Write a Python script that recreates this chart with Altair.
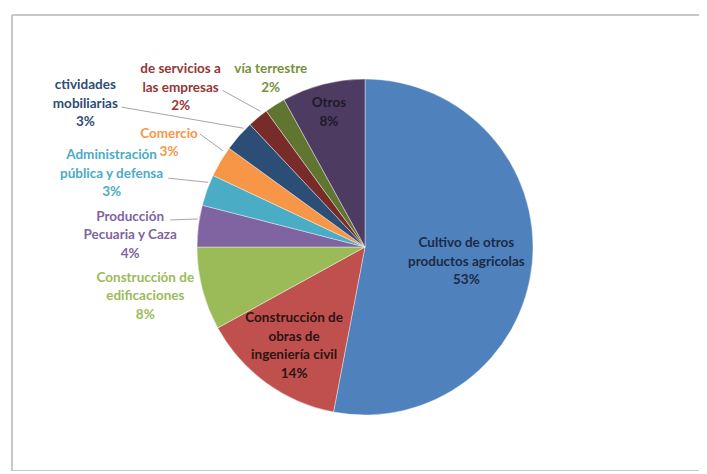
import math
import altair as alt
import pandas as pd

# ---- data ----
categories = [
    "Cultivo de otros productos agricolas",
    "Construcción de obras de ingeniería civil",
    "Construcción de edificaciones",
    "Producción Pecuaria y Caza",
    "Administración pública y defensa",
    "Comercio",
    "Actividades inmobiliarias",
    "Actividades de servicios a las empresas",
    "Transporte por vía terrestre",
    "Otros",
]
shares = [53, 14, 8, 4, 3, 3, 3, 2, 2, 8]
label_texts = [
    "Cultivo de otros\nproductos agricolas",
    "Construcción de\nobras de\ningeniería civil",
    "Construcción de\nedificaciones",
    "Producción\nPecuaria y Caza",
    "Administración\npública y defensa",
    "Comercio",
    "ctividades\nmobiliarias",
    "de servicios a\nlas empresas",
    "vía terrestre",
    "Otros",
]

# ---- styles ----
slice_colors = ["#4F81BD", "#C0504D", "#9BBB59", "#8064A2", "#4BACC6",
                "#F79646", "#2C4D75", "#772C2A", "#5F7530", "#4D3B62"]
text_colors = ["#1c2b45", "#2b1414", "#9BBB59", "#8064A2", "#4BACC6",
               "#F79646", "#2C4D75", "#953735", "#76923C", "#1e1a2a"]
FONT_SIZE = 13.5
LINE_H = 18.5
FRAME = "#c8c8c8"

# ---- layout (label placement relative to slice mid-angle) ----
# (angle offset in degrees, radius as a multiple of the pie radius)
label_layout = [(3.0, 0.61), (-0.4, 0.725), (1.8, 1.34), (-4.3, 1.40), (-3.7, 1.57),
                (-2.7, 1.32), (-14.3, 1.87), (-9.6, 1.45), (3.2, 1.15), (-0.6, 0.83)]
# leader: (start angle offset, start radius, end angle offset, end radius)
leader_layout = {3: (0.7, 1.17, 2.3, 1.01), 4: (-0.5, 1.24, 2.6, 1.01), 5: (3.8, 1.19, 3.5, 1.02),
                 6: (-11.5, 1.67, 3.0, 1.01), 7: (-2.7, 1.26, 2.0, 1.02)}

W, H = 687, 456
CX, CY, R = 353, 232, 168

total = sum(shares)
mids = []
cum = 0
for v in shares:
    mids.append((cum + v / 2) / total * 360.0)
    cum += v


def polar(angle_deg, r):
    a = math.radians(angle_deg)
    return math.sin(a) * r, math.cos(a) * r


pie_df = pd.DataFrame({"category": categories, "share": shares, "idx": list(range(len(categories)))})

rows = []
for i, (cat, v, t) in enumerate(zip(categories, shares, label_texts)):
    da, rr = label_layout[i]
    x, y = polar(mids[i] + da, rr)
    full = f"{t}\n{v}%"
    n = full.count("\n") + 1
    # centre the whole text block on the anchor (Vega anchors the first line)
    y += (n - 1) * LINE_H / 2 / R
    rows.append({"x": x, "y": y, "text": full, "tcolor": text_colors[i]})
text_df = pd.DataFrame(rows)

lrows = []
for i, (da, rr, de, re) in leader_layout.items():
    x1, y1 = polar(mids[i] + da, rr)
    x2, y2 = polar(mids[i] + de, re)
    lrows.append({"x": x1, "y": y1, "x2": x2, "y2": y2})
lead_df = pd.DataFrame(lrows)

xs = alt.Scale(domain=[-CX / R, (W - CX) / R], range=[0, W], nice=False, zero=False)
ys = alt.Scale(domain=[-(H - CY) / R, CY / R], range=[H, 0], nice=False, zero=False)

arc = alt.Chart(pie_df).mark_arc(radius=R, stroke="white", strokeWidth=0.4).encode(
    theta=alt.Theta("share:Q", stack=True),
    order=alt.Order("idx:Q"),
    color=alt.Color("category:N", scale=alt.Scale(domain=categories, range=slice_colors), legend=None),
    x=alt.X(datum=0, type="quantitative", scale=xs, axis=None),
    y=alt.Y(datum=0, type="quantitative", scale=ys, axis=None),
)

leaders = alt.Chart(lead_df).mark_rule(color="#a6a6a6", strokeWidth=1).encode(
    x=alt.X("x:Q", scale=xs, axis=None),
    y=alt.Y("y:Q", scale=ys, axis=None),
    x2="x2:Q",
    y2="y2:Q",
)

labels = alt.Chart(text_df).mark_text(
    font="Lato", fontSize=FONT_SIZE, fontWeight="bold", lineBreak="\n", lineHeight=LINE_H,
    align="center", baseline="middle",
).encode(
    x=alt.X("x:Q", scale=xs, axis=None),
    y=alt.Y("y:Q", scale=ys, axis=None),
    text="text:N",
    color=alt.Color("tcolor:N", scale=None),
)

# chart-area frame (open on the right, as in the cropped original)
frame_df = pd.DataFrame({"k": [0]})
frame_top = alt.Chart(frame_df).mark_rule(color=FRAME, strokeWidth=2).encode(
    x=alt.value(0), x2=alt.value(W), y=alt.value(0))
frame_bottom = alt.Chart(frame_df).mark_rule(color=FRAME, strokeWidth=2).encode(
    x=alt.value(0), x2=alt.value(W), y=alt.value(H))
frame_left = alt.Chart(frame_df).mark_rule(color=FRAME, strokeWidth=2).encode(
    x=alt.value(0), y=alt.value(0), y2=alt.value(H))

chart = alt.layer(frame_top, frame_bottom, frame_left, arc, leaders, labels).resolve_scale(
    color="independent"
).properties(
    width=W,
    height=H,
    padding={"left": 4, "top": 7, "right": 0, "bottom": 0},
    autosize=alt.AutoSizeParams(type="none"),
    background="white",
).configure_view(stroke=None)

chart.save("out.html", embed_options={"renderer": "svg", "actions": False})
